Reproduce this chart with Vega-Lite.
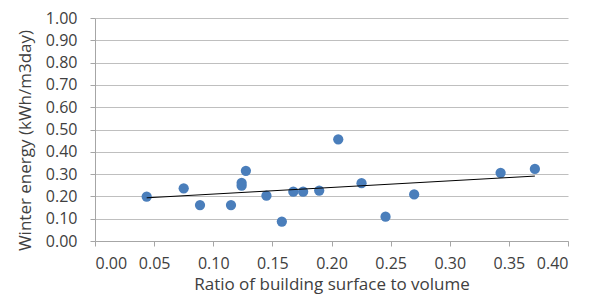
{
  "$schema": "https://vega.github.io/schema/vega-lite/v6.json",
  "autosize": {"type": "none"},
  "padding": {"left": 95, "top": 18, "right": 24, "bottom": 58},
  "width": 473,
  "height": 223,
  "background": "white",
  "config": {
    "view": {"stroke": null},
    "font": "Open Sans",
    "axis": {
      "labelFont": "Open Sans",
      "titleFont": "Open Sans",
      "labelFontSize": 16,
      "titleFontSize": 17,
      "labelColor": "#404040",
      "titleColor": "#404040",
      "titleFontWeight": "normal",
      "domainColor": "#a6a6a6",
      "tickColor": "#a6a6a6",
      "gridColor": "#bfbfbf",
      "tickSize": 5
    }
  },
  "data": {
    "values": [
      {"x": 0.0437, "y": 0.199},
      {"x": 0.075, "y": 0.236},
      {"x": 0.0888, "y": 0.161},
      {"x": 0.115, "y": 0.161},
      {"x": 0.124, "y": 0.261},
      {"x": 0.124, "y": 0.248},
      {"x": 0.1276, "y": 0.315},
      {"x": 0.145, "y": 0.203},
      {"x": 0.158, "y": 0.087},
      {"x": 0.1677, "y": 0.221},
      {"x": 0.176, "y": 0.221},
      {"x": 0.1896, "y": 0.226},
      {"x": 0.2057, "y": 0.456},
      {"x": 0.2254, "y": 0.259},
      {"x": 0.2457, "y": 0.109},
      {"x": 0.2699, "y": 0.209},
      {"x": 0.343, "y": 0.306},
      {"x": 0.372, "y": 0.323}
    ]
  },
  "encoding": {
    "x": {
      "field": "x", "type": "quantitative",
      "scale": {"domain": [0, 0.4], "nice": false, "zero": false},
      "axis": {
        "title": "Ratio of building surface to volume",
        "values": [0, 0.05, 0.1, 0.15, 0.2, 0.25, 0.3, 0.35, 0.4],
        "format": ".2f", "grid": false, "labelPadding": 9, "titlePadding": 5
      }
    },
    "y": {
      "field": "y", "type": "quantitative",
      "scale": {"domain": [0, 1], "nice": false},
      "axis": {
        "title": "Winter energy (kWh/m3day)",
        "values": [0, 0.1, 0.2, 0.3, 0.4, 0.5, 0.6, 0.7, 0.8, 0.9, 1.0],
        "format": ".2f", "grid": true, "labelPadding": 13, "titlePadding": 11,
        "titleY": 122,
        "domain": true
      }
    }
  },
  "layer": [
    {
      "mark": {"type": "circle", "size": 105, "opacity": 1, "color": "#4a7ebb"}
    },
    {
      "transform": [{"regression": "y", "on": "x"}],
      "mark": {"type": "line", "color": "#000000", "strokeWidth": 1}
    }
  ]
}
